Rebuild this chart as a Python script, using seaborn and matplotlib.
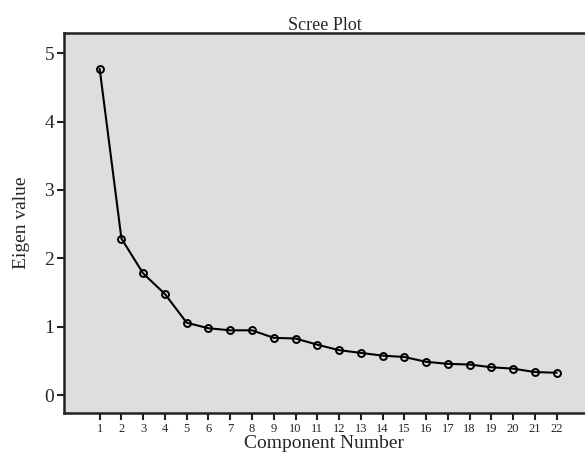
import numpy as np
import pandas as pd
import matplotlib
matplotlib.use("Agg")
import matplotlib.pyplot as plt
import seaborn as sns

# Eigen values
components = list(range(1, 23))
eigen_values = [4.77, 2.29, 1.78, 1.48, 1.06, 0.98, 0.95, 0.95, 0.84, 0.83, 0.74,
                0.66, 0.62, 0.58, 0.56, 0.49, 0.46, 0.45, 0.41, 0.39, 0.34, 0.33]
y_ticks = [0, 1, 2, 3, 4, 5]

df = pd.DataFrame({'Component Number': components, 'Eigen value': eigen_values})

sns.set_style('white', {'axes.facecolor': '#dedede'})
plt.rcParams['font.family'] = ['Liberation Serif', 'DejaVu Serif']

fig = plt.figure(figsize=(5.85, 4.55), dpi=100)
ax = fig.add_axes([0.109, 0.092, 0.891, 0.835])

sns.lineplot(data=df, x='Component Number', y='Eigen value', ax=ax,
             color='black', linewidth=1.5, marker='o', markersize=5,
             markerfacecolor='none', markeredgecolor='black', markeredgewidth=1.4)

ax.set_xlim(-0.65, 23.3)
ax.set_ylim(-0.26, 5.29)
ax.set_xticks(components)
ax.set_xticklabels([str(c) for c in components], fontsize=9)
ax.set_yticks(y_ticks)
ax.set_yticklabels([str(t) for t in y_ticks], fontsize=14)
ax.tick_params(axis='both', direction='out', length=5, width=1.5, color='#222222',
               bottom=True, left=True, pad=2)

for side in ['left', 'top', 'bottom']:
    ax.spines[side].set_color('#222222')
    ax.spines[side].set_linewidth(1.8)
ax.spines['right'].set_visible(False)

ax.set_title('Scree Plot', fontsize=13, pad=2)
ax.set_xlabel('Component Number', fontsize=14, labelpad=0)
ax.set_ylabel('Eigen value', fontsize=14, labelpad=10)

fig.savefig('out.png', dpi=100)
